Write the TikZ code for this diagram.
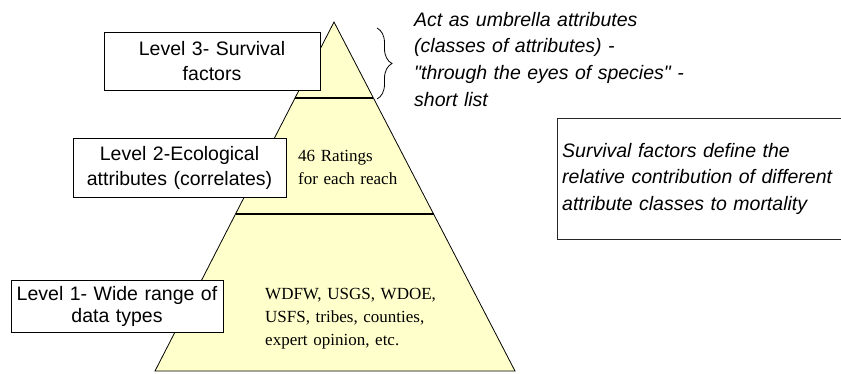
\documentclass[tikz,border=0pt]{standalone}
\usepackage{fontspec}
\setmainfont{Liberation Serif}
\newfontfamily\arialf{Liberation Sans}
\usetikzlibrary{calc,decorations.pathreplacing}
\definecolor{pyellow}{RGB}{255,255,204}
\begin{document}
\begin{tikzpicture}[x=1pt,y=-1pt,
  levelbox/.style={draw=black, line width=0.9pt, fill=white, inner sep=0pt,
    align=center, font=\arialf\fontsize{19.5}{25}\selectfont},
  seriftext/.style={inner sep=0pt, align=left, text width=185pt,
    font=\fontsize{17}{23}\selectfont},
  italtext/.style={inner sep=0pt, align=left,
    font=\arialf\itshape\fontsize{19.5}{26.7}\selectfont},
  divider/.style={line width=2pt, black},
  pyramid/.style={fill=pyellow, draw=black, line width=0.8pt}]
\useasboundingbox (0,0) rectangle (841,373);
\fill[white] (0,0) rectangle (841,373);
% pyramid
\coordinate (apex) at (334,22);
\coordinate (bl) at (155,371);
\coordinate (br) at (515,371);
\filldraw[pyramid] (apex) -- (bl) -- (br) -- cycle;
\coordinate (d3l) at ($(apex)!0.2178!(bl)$);
\coordinate (d3r) at ($(apex)!0.2178!(br)$);
\coordinate (d2l) at ($(apex)!0.550!(bl)$);
\coordinate (d2r) at ($(apex)!0.550!(br)$);
\draw[divider] (d3l) -- (d3r);
\draw[divider] (d2l) -- (d2r);
% level boxes
\node[levelbox, minimum width=216pt, minimum height=58pt, text width=212pt] (l3) at (212,61) {Level 3- Survival\\factors};
\node[levelbox, minimum width=213pt, minimum height=59pt, text width=209pt] (l2) at (179.5,167.5) {Level 2-Ecological\\attributes (correlates)};
\node[levelbox, minimum width=212pt, minimum height=52pt, text width=208pt, font=\arialf\fontsize{19.5}{22}\selectfont] (l1) at (117,306) {Level 1- Wide range of\\data types};
% texts inside pyramid
\node[seriftext, anchor=base west, text width=120pt] (rate) at (298,161) {46 Ratings\\for each reach};
\node[seriftext, anchor=base west] (data) at (265,299) {WDFW, USGS, WDOE,\\USFS, tribes, counties,\\expert opinion, etc.};
% brace and umbrella text
\coordinate (bt) at (377,28);
\coordinate (bb) at (377,99);
\draw[decorate, decoration={brace, amplitude=15pt}, line width=0.8pt] (bt) -- (bb);
\node[italtext, anchor=base west, text width=330pt] (umb) at (414,26) {Act as umbrella attributes\\(classes of attributes) -\\"through the eyes of species" -\\short list};
% survival factors box (right edge beyond the picture)
\node[italtext, anchor=north west, inner xsep=5pt, text width=275pt, minimum height=121pt] (surv) at (557,118) {Survival factors define the\\relative contribution of different\\attribute classes to mortality};
\draw[line width=0.9pt, black!85] (surv.north east) -- (surv.north west) -- (surv.south west) -- (surv.south east);
\end{tikzpicture}
\end{document}
